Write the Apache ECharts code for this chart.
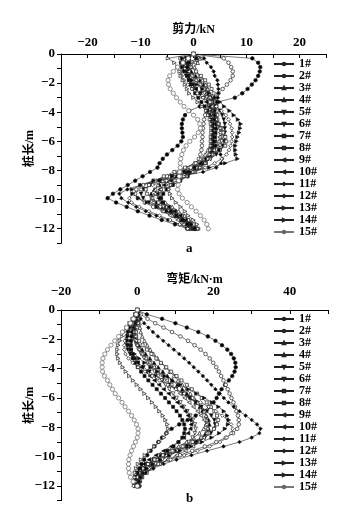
<!DOCTYPE html>
<html><head><meta charset="utf-8">
<script src="https://cdn.jsdelivr.net/npm/echarts@6/dist/echarts.min.js"></script>
<style>html,body{margin:0;padding:0;background:#fff}#c{width:362px;height:513px}</style>
</head><body><div id="c"></div>
<script>
const names = ['1#','2#','3#','4#','5#','6#','7#','8#','9#','10#','11#','12#','13#','14#','15#'];
const depth = [0,-0.3,-0.6,-0.9,-1.2,-1.5,-1.8,-2.1,-2.4,-2.7,-3,-3.3,-3.6,-3.9,-4.2,-4.5,-4.8,-5.1,-5.4,-5.7,-6,-6.3,-6.6,-6.9,-7.2,-7.5,-7.8,-8.1,-8.4,-8.7,-9,-9.3,-9.6,-9.9,-10.2,-10.5,-10.8,-11.1,-11.4,-11.7,-12];
const shearTicks = [-20,-10,0,10,20];
const momentTicks = [-20,0,20,40];
const depthTicks = [0,-2,-4,-6,-8,-10,-12];

const shear1 = [0,11.1,12.2,12.6,12.5,12.2,11.7,11.0,10.2,9.2,7.8,4.5,1.2,-0.8,-1.6,-2.0,-2.2,-2.2,-2.1,-2.0,-2.3,-3.0,-4.0,-5.0,-5.8,-6.4,-6.8,-8.2,-9.6,-11.0,-12.4,-13.8,-15.2,-16.2,-14.6,-12.6,-10.5,-8.3,-6.0,-3.5,-1.2];
const shear2 = [0,5.7,6.6,7.1,7.4,7.4,7.0,6.3,5.5,4.7,4.0,3.4,2.9,2.5,2.2,2.0,1.9,1.8,1.7,1.7,1.6,1.6,1.5,1.3,1.0,0.5,-0.5,-2.5,-5.0,-7.5,-9.5,-10.8,-11.0,-10.5,-9.2,-7.6,-5.8,-4.0,-2.4,-1.0,0.2];
const shear3 = [0,-0.8,-1.2,-1.0,-0.4,0.4,1.2,1.9,2.6,3.0,3.4,3.6,3.8,3.9,4.1,4.3,4.4,4.3,4.1,3.9,3.8,3.7,3.5,3.0,2.4,1.4,0.2,-1.4,-3.2,-5.0,-6.4,-7.4,-8.0,-7.8,-7.0,-5.8,-4.5,-3.1,-1.9,-0.9,0.0];
const shear4 = [0,1.2,0.8,0.2,0.4,1.1,1.7,2.3,2.7,3.0,3.2,3.4,3.5,3.5,3.6,3.6,3.6,3.6,3.6,3.5,3.4,3.2,2.7,2.2,1.3,0.1,-1.3,-2.9,-4.5,-5.8,-6.7,-7.2,-7.1,-6.3,-5.3,-4.0,-2.8,-1.7,-0.8,0.0,0.5];
const shear5 = [0,-1.4,-1.8,-2.0,-1.8,-1.4,-0.9,-0.3,0.5,1.4,2.5,3.5,4.3,5.0,5.4,5.7,5.9,5.9,5.9,5.9,5.8,5.5,5.0,4.3,3.2,1.8,0.2,-1.8,-4.1,-6.3,-8.1,-9.4,-9.9,-9.5,-8.4,-6.8,-5.2,-3.6,-2.2,-0.9,0.2];
const shear6 = [0,0.8,-0.3,-1.0,-0.8,-0.3,0.3,1.0,1.6,2.1,2.5,2.7,2.9,3.1,3.4,3.9,4.5,5.0,5.3,5.4,5.3,5.0,4.4,3.6,2.8,2.0,1.2,0.1,-1.2,-2.6,-4.0,-5.2,-6.0,-6.5,-6.4,-5.7,-4.7,-3.6,-2.5,-1.6,-0.7];
const shear7 = [0,0.5,-0.8,-1.1,-1.2,-1.1,-0.9,-0.6,-0.2,0.3,0.9,1.5,2.1,2.6,3.0,3.3,3.5,3.6,3.6,3.6,3.6,3.5,3.4,3.1,2.6,2.0,1.1,0.1,-1.1,-2.5,-3.9,-5.0,-5.7,-6.1,-5.8,-5.1,-4.2,-3.2,-2.2,-1.3,-0.6];
const shear8 = [0,-2.5,-1.8,-0.5,0.5,1.4,2.2,2.9,3.4,3.8,4.1,4.2,4.3,4.4,4.5,4.5,4.8,5.2,5.6,6.0,6.2,6.0,5.0,3.6,2.0,0.4,-1.6,-3.6,-5.6,-7.2,-8.4,-9.0,-8.8,-7.9,-6.6,-5.0,-3.5,-2.2,-1.0,0.0,0.9];
const shear9 = [0,-0.9,-1.2,-1.4,-1.2,-1.0,-0.6,-0.2,0.4,1.0,1.7,2.4,3.0,3.4,3.7,3.9,4.0,4.1,4.1,4.0,4.0,3.8,3.5,3.0,2.2,1.2,0.1,-1.2,-2.9,-4.3,-5.6,-6.4,-6.8,-6.6,-5.8,-4.7,-3.6,-2.5,-1.5,-0.6,0.1];
const shear10 = [0,1.5,0.2,-0.6,-0.9,-0.4,0.4,1.2,1.9,2.5,3.0,3.3,3.5,3.7,3.9,4.2,4.6,4.9,5.0,4.9,4.7,4.3,3.8,3.4,3.0,2.3,1.4,0.2,-1.4,-3.1,-4.8,-6.2,-7.3,-7.8,-7.6,-6.9,-5.7,-4.4,-3.0,-1.9,-0.9];
const shear11 = [0,2.0,2.5,3.3,3.8,4.0,4.5,4.6,4.7,4.7,4.6,4.4,4.2,4.0,4.0,3.9,3.7,3.7,3.7,3.7,3.8,4.2,4.8,5.1,5.4,5.2,4.3,1.8,-2.5,-6.5,-10.0,-12.5,-14.0,-13.6,-12.3,-10.8,-9.0,-7.0,-4.8,-2.6,-1.0];
const shear12 = [0,-2.0,-2.4,-2.2,-2.4,-2.2,-1.8,-1.1,-0.3,0.7,1.8,3.1,4.3,5.3,6.1,6.6,6.9,7.2,7.3,7.3,7.2,7.0,6.7,6.2,5.3,4.0,2.2,0.2,-2.2,-5.1,-7.7,-9.9,-11.4,-12.1,-11.7,-10.2,-8.4,-6.4,-4.4,-2.6,-1.1];
const shear13 = [0,-2.1,-2.3,-2.1,-1.7,-1.1,-0.3,0.6,1.7,2.9,4.1,5.0,5.8,6.8,7.6,8.4,8.9,8.8,8.6,8.3,8.1,7.9,7.9,8.0,8.3,6.0,3.0,-0.5,-4.0,-7.5,-10.0,-11.6,-11.5,-10.4,-8.8,-6.9,-5.0,-3.2,-1.7,-0.4,0.8];
const shear14 = [0,-4.8,-3.6,-3.0,-2.6,-2.4,-2.0,-1.6,-1.2,-0.8,0.0,0.8,1.6,2.4,2.8,3.1,3.3,3.4,3.4,3.3,3.3,3.3,3.2,3.1,2.8,2.3,1.3,0.0,-1.7,-3.4,-4.2,-4.6,-4.4,-4.0,-3.3,-2.4,-1.6,-1.0,0.0,0.7,0.9];
const shear15 = [0,-1.0,-2.0,-3.0,-3.8,-4.5,-4.8,-4.7,-4.4,-3.8,-3.2,-2.5,-1.8,-0.9,0.0,0.8,1.2,1.3,0.9,0.2,-0.7,-1.4,-1.9,-2.2,-2.4,-2.5,-2.5,-2.6,-2.7,-2.8,-2.9,-3.0,-2.7,-2.1,-1.2,-0.4,0.5,1.3,2.0,2.5,2.8];

const moment1 = [0,2.5,6.5,10.0,13.0,16.0,18.5,20.5,22.2,23.6,24.6,25.3,25.7,25.8,25.5,24.9,24.0,23.0,22.1,21.4,20.8,20.0,18.8,17.2,15.3,13.2,11.0,9.0,7.6,6.5,5.5,4.5,3.5,2.6,1.8,1.1,0.5,0.1,-0.2,-0.3,-0.2];
const moment2 = [0,0.9,2.7,4.7,6.9,9.1,11.3,13.3,15.0,16.6,17.9,19.0,19.9,20.7,21.4,22.0,22.6,23.2,23.7,24.2,24.7,25.2,25.6,26.0,26.4,26.6,26.6,26.2,25.1,23.2,20.7,17.7,14.4,11.2,8.2,5.7,3.7,2.2,1.2,0.7,0.6];
const moment3 = [0,-0.1,-0.4,-0.7,-1.0,-1.0,-0.7,-0.2,0.4,1.3,2.2,3.3,4.4,5.5,6.7,7.9,9.2,10.5,11.8,13.0,14.2,15.3,16.4,17.3,18.1,18.7,18.9,18.7,17.9,16.7,15.1,13.0,10.7,8.3,6.0,4.0,2.5,1.3,0.6,0.1,0.0];
const moment4 = [0,0.2,0.5,0.6,0.7,0.9,1.3,1.9,2.6,3.4,4.3,5.3,6.3,7.4,8.5,9.6,10.7,11.8,12.9,13.9,14.9,15.9,16.8,17.5,18.0,18.2,18.0,17.4,16.3,14.8,12.9,10.8,8.6,6.5,4.6,3.0,1.8,0.9,0.4,0.2,0.3];
const moment5 = [0,-0.2,-0.7,-1.3,-1.8,-2.3,-2.6,-2.8,-2.8,-2.5,-1.9,-1.0,0.2,1.6,3.2,4.8,6.6,8.3,10.1,11.9,13.6,15.3,16.8,18.3,19.4,20.2,20.4,20.2,19.3,17.7,15.6,13.0,10.1,7.1,4.5,2.4,1.0,0.0,-0.5,-0.8,-0.9];
const moment6 = [0,0.1,0.1,-0.1,-0.4,-0.6,-0.8,-0.6,-0.2,0.3,1.0,1.8,2.7,3.6,4.5,5.5,6.4,7.4,8.4,9.4,10.3,11.3,12.2,13.1,13.9,14.6,15.1,15.3,15.1,14.5,13.5,12.2,10.5,8.6,6.6,4.8,3.3,2.0,1.0,0.5,0.1];
const moment7 = [0,0.1,-0.1,-0.4,-0.8,-1.1,-1.4,-1.6,-1.7,-1.7,-1.5,-1.2,-0.6,0.1,1.0,1.9,2.9,4.0,5.1,6.2,7.3,8.3,9.4,10.3,11.2,11.8,12.3,12.5,12.3,11.8,10.8,9.5,7.9,6.2,4.3,2.8,1.5,0.6,0.0,-0.3,-0.5];
const moment8 = [0,-0.5,-0.8,-1.1,-1.1,-0.8,-0.3,0.5,1.4,2.5,3.7,5.0,6.2,7.6,8.9,10.3,11.6,13.0,14.3,15.7,16.9,18.2,19.3,20.2,20.9,21.2,20.9,20.1,18.7,16.8,14.5,11.9,9.2,6.7,4.5,2.8,1.4,0.6,0.1,0.0,0.2];
const moment9 = [0,-0.1,-0.5,-0.9,-1.2,-1.6,-1.8,-1.9,-1.9,-1.7,-1.3,-0.7,0.1,1.1,2.2,3.3,4.5,5.7,6.9,8.2,9.4,10.5,11.6,12.6,13.3,13.9,14.1,13.9,13.3,12.2,10.7,8.9,6.9,4.9,3.1,1.7,0.7,0.0,-0.4,-0.6,-0.6];
const moment10 = [0,0.2,0.3,0.1,-0.2,-0.4,-0.5,-0.4,-0.1,0.4,1.2,2.2,3.2,4.3,5.4,6.6,7.7,8.9,10.1,11.2,12.4,13.6,14.7,15.8,16.7,17.5,18.1,18.3,18.1,17.4,16.2,14.6,12.6,10.3,8.0,5.8,3.9,2.4,1.2,0.5,0.1];
const moment11 = [0,0.3,0.9,1.8,2.9,4.1,5.4,6.8,8.2,9.6,11.0,12.3,13.6,14.8,16.0,17.2,18.3,19.4,20.5,21.6,22.7,23.9,25.3,26.8,28.4,30.0,31.4,32.3,32.0,30.0,26.8,22.6,18.3,14.2,10.3,6.9,4.2,2.2,1.0,0.4,0.2];
const moment12 = [0,-0.3,-0.6,-1.2,-1.9,-2.5,-3.0,-3.3,-3.4,-3.4,-3.1,-2.3,-1.2,0.2,2.0,3.9,5.8,8.0,10.1,12.3,14.5,16.6,18.7,20.6,22.3,23.7,24.6,25.0,24.6,23.5,21.7,19.0,15.8,12.3,8.7,5.5,3.0,1.2,0.0,-0.7,-1.0];
const moment13 = [0,-0.3,-0.9,-1.4,-1.9,-2.3,-2.5,-2.5,-2.2,-1.6,-0.7,0.5,1.9,3.5,5.3,7.2,9.2,11.3,13.4,15.5,17.6,19.6,21.3,22.7,23.6,24.0,23.8,23.0,21.5,19.5,17.0,14.1,11.2,8.4,6.0,4.0,2.5,1.5,0.9,0.6,0.6];
const moment14 = [0,-0.5,-1.2,-2.0,-2.8,-3.5,-4.1,-4.6,-5.0,-5.2,-5.2,-5.0,-4.5,-3.8,-3.0,-2.1,-1.1,-0.1,0.9,1.9,2.9,3.9,4.9,5.8,6.7,7.4,7.9,8.1,7.8,7.0,5.8,4.5,3.2,2.0,1.0,0.2,-0.3,-0.6,-0.6,-0.4,-0.2];
const moment15 = [0,-0.3,-1.0,-1.8,-2.8,-3.9,-4.9,-5.9,-6.9,-7.8,-8.5,-9.0,-9.2,-9.2,-9.1,-8.6,-7.8,-7.2,-6.5,-5.8,-4.9,-4.0,-3.2,-2.3,-1.5,-0.8,-0.2,0.2,0.2,0.0,-0.5,-1.0,-1.5,-1.9,-2.2,-2.3,-2.3,-2.1,-1.8,-1.1,0.0];

const shearSets = [shear1,shear2,shear3,shear4,shear5,shear6,shear7,shear8,shear9,shear10,shear11,shear12,shear13,shear14,shear15];
const momentSets = [moment1,moment2,moment3,moment4,moment5,moment6,moment7,moment8,moment9,moment10,moment11,moment12,moment13,moment14,moment15];

const symbols = ['circle','circle','triangle','triangle','triangle','triangle','rect','rect','triangle','triangle','diamond','diamond','triangle','triangle','circle'];
const rotates = [0,0,0,0,180,180,0,0,90,90,0,0,-90,-90,0];
const filled = [true,false,true,false,true,false,true,false,true,false,true,false,true,false,false];

const SERIF = "'Liberation Serif','Noto Sans CJK SC',serif";
const fmtMinus = v => (v < 0 ? '\u2212' + Math.abs(v) : String(v));

function makeSeries(sets, p) {
  return sets.map((arr, k) => {
    const gray = k === 14;
    return {
      type: 'line', name: names[k], xAxisIndex: p, yAxisIndex: p,
      data: depth.map((d, i) => [arr[i], d]),
      symbol: symbols[k], symbolRotate: rotates[k],
      symbolSize: gray ? 4.2 : (symbols[k] === 'rect' ? 3 : 3.6),
      showSymbol: true, showAllSymbol: true,
      lineStyle: { color: gray ? '#777' : '#222', width: 0.6 },
      itemStyle: { color: filled[k] ? '#000' : '#fff', borderColor: gray ? '#666' : '#222', borderWidth: 0.7 },
      emphasis: { disabled: true }, silent: true, animation: false, clip: false
    };
  });
}

function xAxis(p, min, max, interval, ticks, name, labelMargin, nameGap) {
  return {
    gridIndex: p, type: 'value', position: 'top', min, max, interval,
    name, nameLocation: 'middle', nameGap, nameMoveOverlap: false,
    nameTextStyle: { fontFamily: SERIF, fontWeight: 'bold', fontSize: 12, color: '#000' },
    axisLine: { show: true, onZero: false, lineStyle: { color: '#000', width: 1 } },
    axisTick: { show: true, inside: true, length: 4, lineStyle: { color: '#000' } },
    axisLabel: { margin: labelMargin, fontFamily: SERIF, fontWeight: 'bold', fontSize: 13, color: '#000',
      formatter: v => ticks.includes(v) ? fmtMinus(v) : '' },
    splitLine: { show: false }
  };
}
function yAxis(p) {
  return {
    gridIndex: p, type: 'value', min: -13, max: 0, interval: 1,
    name: '桩长/m', nameLocation: 'middle', nameGap: 25, nameMoveOverlap: false,
    nameTextStyle: { fontFamily: SERIF, fontWeight: 'bold', fontSize: 12, color: '#000' },
    axisLine: { show: true, onZero: false, lineStyle: { color: '#000', width: 1 } },
    axisTick: { show: true, inside: false, length: 4, lineStyle: { color: '#000' } },
    axisLabel: { margin: 6, fontFamily: SERIF, fontWeight: 'bold', fontSize: 13, color: '#000',
      formatter: v => depthTicks.includes(v) ? fmtMinus(v) : '' },
    splitLine: { show: false }
  };
}
function legend(top) {
  return {
    data: names, left: 273, top, orient: 'vertical', padding: 0,
    itemWidth: 20, itemHeight: 3, itemGap: 0, selectedMode: false,
    textStyle: { fontFamily: SERIF, fontWeight: 'bold', fontSize: 12, lineHeight: 11.9, color: '#000' }
  };
}

const chart = echarts.init(document.getElementById('c'), null, { renderer: 'canvas' });
chart.setOption({
  animation: false,
  backgroundColor: '#fff',
  grid: [
    { left: 61, top: 54, width: 265, height: 189.3 },
    { left: 61, top: 310, width: 267, height: 190.7 }
  ],
  xAxis: [
    xAxis(0, -25, 25, 5, shearTicks, '剪力/kN', 5, 18),
    xAxis(1, -20, 50, 10, momentTicks, '弯矩/kN·m', 12, 24)
  ],
  yAxis: [yAxis(0), yAxis(1)],
  legend: [legend(58), legend(313)],
  graphic: [
    { type: 'text', left: 186, top: 242, style: { text: 'a', font: "bold 13px 'Liberation Serif'", fill: '#000' } },
    { type: 'text', left: 186, top: 492, style: { text: 'b', font: "bold 13px 'Liberation Serif'", fill: '#000' } }
  ],
  series: makeSeries(shearSets, 0).concat(makeSeries(momentSets, 1))
});
</script></body></html>
